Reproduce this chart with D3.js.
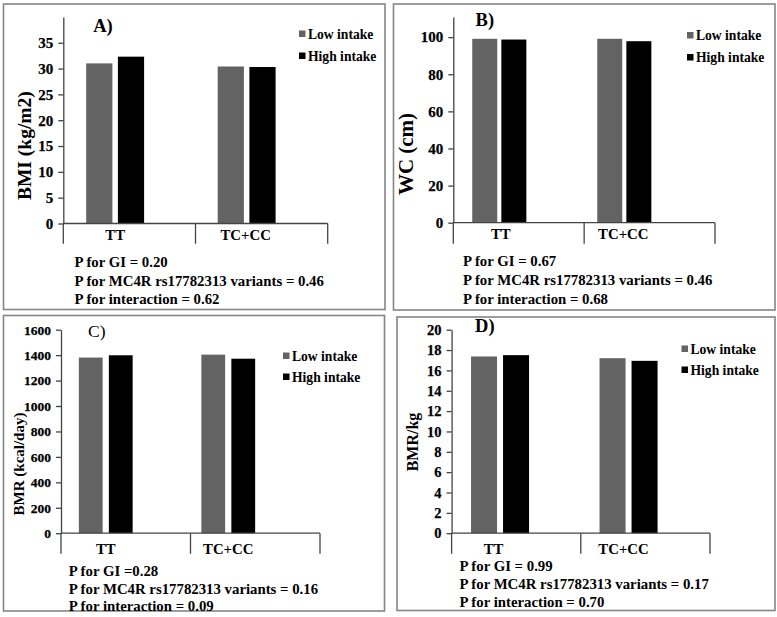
<!DOCTYPE html>
<html>
<head>
<meta charset="utf-8">
<script src="https://cdn.jsdelivr.net/npm/d3@7"></script>
<style>
  html, body { margin: 0; padding: 0; background: #fff; }
  svg { display: block; }
  text { font-family: "Liberation Serif", "Times New Roman", serif; font-weight: bold; fill: #000; }
</style>
</head>
<body>
<svg id="chart" width="777" height="617"></svg>
<script>
// ---------- data ----------
const categories = ["TT", "TC+CC"];
const series = ["Low intake", "High intake"];

const bmiLow  = [31.0, 30.4];
const bmiHigh = [32.3, 30.3];
const wcLow   = [99.1, 99.1];
const wcHigh  = [98.7, 97.8];
const bmrLow  = [1381, 1404];
const bmrHigh = [1399, 1372];
const bmrKgLow  = [17.37, 17.2];
const bmrKgHigh = [17.5, 16.94];

const ticksA = [0, 5, 10, 15, 20, 25, 30, 35];
const ticksB = [0, 20, 40, 60, 80, 100];
const ticksC = [0, 200, 400, 600, 800, 1000, 1200, 1400, 1600];
const ticksD = [0, 2, 4, 6, 8, 10, 12, 14, 16, 18, 20];

const titles = ["A)", "B)", "C)", "D)"];
const yLabels = ["BMI (kg/m2)", "WC (cm)", "BMR (kcal/day)", "BMR/kg"];

const pTextA = ["P for GI = 0.20", "P for MC4R rs17782313 variants = 0.46", "P for interaction = 0.62"];
const pTextB = ["P for GI = 0.67", "P for MC4R rs17782313 variants = 0.46", "P for interaction = 0.68"];
const pTextC = ["P for GI =0.28", "P for MC4R rs17782313 variants = 0.16", "P for interaction = 0.09"];
const pTextD = ["P for GI = 0.99", "P for MC4R rs17782313 variants = 0.17", "P for interaction = 0.70"];

const seriesColors = ["#636363", "#000000"];

// ---------- layout (positions / styles only) ----------
const panels = [
  { low: bmiLow, high: bmiHigh, ticks: ticksA, yMax: 40, title: titles[0], yLabel: yLabels[0], pText: pTextA,
    box: [3.5, 4, 385, 309.5], axisX: 63.3, xEnd: 327.7, y0: 223.5, yTop: 16.9, tickBottom: 243.7,
    barRange: [49.4, 312.4], barW: 26.2, gap: 5.5, catDx: [0, -1],
    tickFont: 15, titleFont: 18.5, titleWeight: "bold", titlePos: [103, 26], yLabFont: 19.5, yLabPos: [24.3, 145.6],
    legX: 299, legY: [34, 56], legFont: 13.6, catY: 235, catFont: 14.8,
    pX: 74.5, pY: [262, 281, 298.6], pFont: 14.8 },
  { low: wcLow, high: wcHigh, ticks: ticksB, yMax: 110.9, title: titles[1], yLabel: yLabels[1], pText: pTextB,
    box: [393.5, 4, 775, 310], axisX: 453.3, xEnd: 715, y0: 222.7, yTop: 16.9, tickBottom: 243.7,
    barRange: [436.8, 686.8], barW: 25, gap: 4.1, catDx: [1.5, -1],
    tickFont: 15, titleFont: 18.5, titleWeight: "bold", titlePos: [484.8, 19.8], yLabFont: 21, yLabPos: [406, 154],
    legX: 687, legY: [35.5, 57.5], legFont: 13.6, catY: 233.6, catFont: 14.8,
    pX: 463, pY: [261, 280, 298.6], pFont: 14.8 },
  { low: bmrLow, high: bmrHigh, ticks: ticksC, yMax: 1600, title: titles[2], yLabel: yLabels[2], pText: pTextC,
    box: [3.5, 315.5, 384.5, 611], axisX: 61, xEnd: 320, y0: 533.2, yTop: 329.7, tickBottom: 553.8,
    barRange: [44.5, 289.5], barW: 23.8, gap: 6.2, catDx: [0, 0],
    tickFont: 13.5, titleFont: 17.5, titleWeight: "normal", titlePos: [96.8, 331], yLabFont: 15, yLabPos: [19.1, 464],
    legX: 283, legY: [356, 377], legFont: 13.6, catY: 548.7, catFont: 14.8,
    pX: 68.7, pY: [570.7, 588.7, 605.6], pFont: 14.8 },
  { low: bmrKgLow, high: bmrKgHigh, ticks: ticksD, yMax: 20, title: titles[3], yLabel: yLabels[3], pText: pTextD,
    box: [397, 317, 775, 610.5], axisX: 451.6, xEnd: 710, y0: 533.2, yTop: 329.7, tickBottom: 553.8,
    barRange: [435.8, 692.8], barW: 26, gap: 6, catDx: [-6.5, -5],
    tickFont: 14.5, titleFont: 18.5, titleWeight: "bold", titlePos: [484.8, 326.2], yLabFont: 16, yLabPos: [412, 442],
    legX: 681.5, legY: [349, 370], legFont: 13.6, catY: 548.7, catFont: 14.8,
    pX: 459.4, pY: [565.7, 584.3, 602], pFont: 14.8 }
];

const svg = d3.select("#chart");
svg.append("rect").attr("width", 777).attr("height", 617).attr("fill", "#fff");

panels.forEach(p => {
  const g = svg.append("g");

  // border box
  g.append("rect")
    .attr("x", p.box[0]).attr("y", p.box[1])
    .attr("width", p.box[2] - p.box[0]).attr("height", p.box[3] - p.box[1])
    .attr("fill", "none").attr("stroke", "#858585").attr("stroke-width", 1.6);

  const y = d3.scaleLinear().domain([0, p.yMax]).range([p.y0, p.yTop]);

  // category groups (bar centres)
  const x0 = d3.scaleBand().domain(categories).range(p.barRange);
  const groupW = 2 * p.barW + p.gap;
  const x1 = d3.scaleBand().domain(series).range([0, groupW])
    .paddingInner(p.gap / (p.barW + p.gap)).paddingOuter(0);

  const rows = categories.map((c, i) => ({ cat: c, values: [p.low[i], p.high[i]] }));

  const grp = g.selectAll("g.cat").data(rows).enter().append("g")
    .attr("transform", d => `translate(${x0(d.cat) + x0.bandwidth() / 2 - groupW / 2},0)`);
  grp.selectAll("rect").data(d => d.values.map((v, k) => ({ s: series[k], v, k })))
    .enter().append("rect")
    .attr("x", d => x1(d.s))
    .attr("width", x1.bandwidth())
    .attr("y", d => y(d.v))
    .attr("height", d => y(0) - y(d.v))
    .attr("fill", d => seriesColors[d.k]);

  // y axis
  const yAxis = d3.axisLeft(y).tickValues(p.ticks).tickSize(5).tickSizeOuter(0).tickPadding(5)
    .tickFormat(d3.format("d"));
  const ya = g.append("g").attr("transform", `translate(${p.axisX},0)`).call(yAxis);
  ya.attr("font-family", null).attr("font-size", null);
  ya.select(".domain").attr("stroke", "#444").attr("stroke-width", 1.3);
  ya.selectAll(".tick line").attr("stroke", "#444").attr("stroke-width", 1.3);
  ya.selectAll(".tick text")
    .style("font-family", '"Liberation Serif", "Times New Roman", serif')
    .style("font-weight", "bold").style("font-size", p.tickFont + "px")
    .attr("fill", "#000").attr("stroke", "#000").attr("stroke-width", 0.25);

  // x axis line and category separators
  const xs = d3.scaleBand().domain(categories).range([p.axisX, p.xEnd]);
  g.append("line").attr("x1", p.axisX).attr("x2", p.xEnd).attr("y1", p.y0).attr("y2", p.y0)
    .attr("stroke", "#444").attr("stroke-width", 1.3);
  const seps = categories.map(c => xs(c)).concat([p.xEnd]);
  g.selectAll("line.sep").data(seps).enter().append("line")
    .attr("x1", d => d).attr("x2", d => d).attr("y1", p.y0).attr("y2", p.tickBottom)
    .attr("stroke", "#444").attr("stroke-width", 1.3);

  // category labels
  g.selectAll("text.cat").data(categories).enter().append("text")
    .attr("x", (d, i) => x0(d) + x0.bandwidth() / 2 + p.catDx[i]).attr("y", p.catY)
    .attr("text-anchor", "middle").attr("dominant-baseline", "central")
    .style("font-size", p.catFont + "px").text(d => d);

  // title
  g.append("text").attr("x", p.titlePos[0]).attr("y", p.titlePos[1])
    .attr("text-anchor", "middle").attr("dominant-baseline", "central")
    .style("font-size", p.titleFont + "px").style("font-weight", p.titleWeight).text(p.title);

  // y label
  g.append("text")
    .attr("transform", `translate(${p.yLabPos[0]},${p.yLabPos[1]}) rotate(-90)`)
    .attr("text-anchor", "middle").attr("dominant-baseline", "central")
    .style("font-size", p.yLabFont + "px").text(p.yLabel);

  // legend
  series.forEach((s, k) => {
    g.append("rect").attr("x", p.legX).attr("y", p.legY[k] - 3.5).attr("width", 6.5).attr("height", 6.5)
      .attr("fill", seriesColors[k]);
    g.append("text").attr("x", p.legX + 9).attr("y", p.legY[k])
      .attr("dominant-baseline", "central").style("font-size", p.legFont + "px").text(s);
  });

  // p-value notes
  p.pText.forEach((t, i) => {
    g.append("text").attr("x", p.pX).attr("y", p.pY[i]).attr("dominant-baseline", "central")
      .style("font-size", p.pFont + "px").text(t);
  });
});
</script>
</body>
</html>
